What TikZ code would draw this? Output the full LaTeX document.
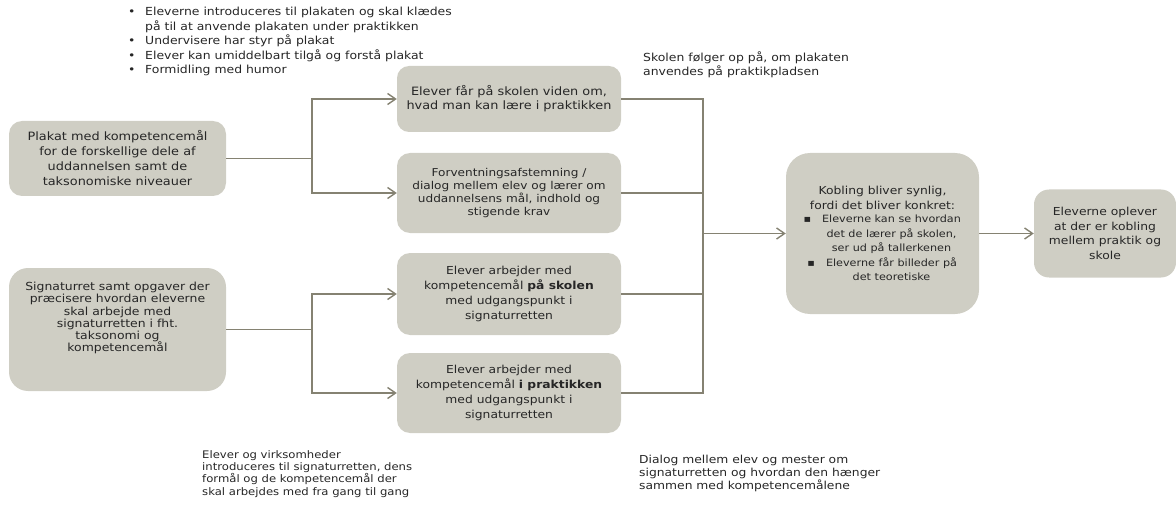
\documentclass[tikz,border=0pt]{standalone}
\usepackage{fontspec}
\setmainfont{DejaVu Sans}[FakeStretch=1.12]
\usetikzlibrary{arrows.meta}
\definecolor{boxfill}{HTML}{CFCEC4}
\definecolor{linec}{HTML}{858272}
\definecolor{txt}{HTML}{262626}
\newcommand\blsz{\fontsize{10}{13.5}\selectfont}
\begin{document}
\begin{tikzpicture}[x=1pt,y=-1pt,
  box/.style={draw=none, fill=boxfill, rounded corners=#1, align=center,
    text=txt, inner sep=0pt, font=\fontsize{11}{14.5}\selectfont},
  box/.default=12pt,
  conn/.style={draw=linec, line width=1.4pt},
  arr/.style={conn, -{Straight Barb[length=8pt,width=11pt]}},
  note/.style={anchor=north west, align=left, inner sep=0pt, text=txt,
    font=\fontsize{11.1}{14.5}\selectfont}]
\useasboundingbox (0,0) rectangle (1176,508);

% left boxes
\node[box=13pt, minimum width=217pt, minimum height=75pt,
  font=\fontsize{11.5}{15}\selectfont] (A) at (117.5,158.5)
  {Plakat med kompetencemål\\for de forskellige dele af\\uddannelsen samt de\\taksonomiske niveauer};
\node[box=19pt, minimum width=217pt, minimum height=123pt,
  font=\fontsize{11.1}{12.3}\selectfont, text depth=25pt] (B) at (117.5,329.5)
  {Signaturret samt opgaver der\\præcisere hvordan eleverne\\skal arbejde med\\signaturretten i fht.\\taksonomi og\\kompetencemål};

% middle boxes
\node[box=12pt, minimum width=224pt, minimum height=66pt,
  font=\fontsize{11.5}{14}\selectfont] (C1) at (509,99)
  {Elever får på skolen viden om,\\hvad man kan lære i praktikken};
\node[box=13pt, minimum width=224pt, minimum height=80pt,
  font=\fontsize{10.8}{13.3}\selectfont] (C2) at (509,193)
  {Forventningsafstemning /\\dialog mellem elev og lærer om\\uddannelsens mål, indhold og\\stigende krav};
\node[box=13pt, minimum width=224pt, minimum height=82pt,
  font=\fontsize{11}{14.8}\selectfont] (C3) at (509,294)
  {Elever arbejder med\\kompetencemål \textbf{på skolen}\\med udgangspunkt i\\signaturretten};
\node[box=13pt, minimum width=224pt, minimum height=80pt,
  font=\fontsize{11}{15}\selectfont] (C4) at (509,393)
  {Elever arbejder med\\kompetencemål \textbf{i praktikken}\\med udgangspunkt i\\signaturretten};

% right boxes
\node[box=24pt, minimum width=193pt, minimum height=161pt,
  font=\fontsize{11}{14.5}\selectfont] (D) at (882.5,233.5)
  {Kobling bliver synlig,\\fordi det bliver konkret:\\[-1pt]
   \blsz\hspace*{18pt}\llap{▪\hspace{11pt}}Eleverne kan se hvordan\\
   \blsz\hspace*{18pt}det de lærer på skolen,\\
   \blsz\hspace*{18pt}ser ud på tallerkenen\\
   \blsz\hspace*{18pt}\llap{▪\hspace{11pt}}Eleverne får billeder på\\
   \blsz\hspace*{18pt}det teoretiske};
\node[box=15pt, minimum width=142pt, minimum height=88pt] (E) at (1105,233.5)
  {Eleverne oplever\\at der er kobling\\mellem praktik og\\skole};

% connectors
\coordinate (jA) at (312,158.5);
\coordinate (jB) at (312,329.5);
\coordinate (jR) at (703,233.5);
\draw[arr] (A.east) -- (jA) |- (C1.west);
\draw[arr] (jA) |- (C2.west);
\draw[arr] (B.east) -- (jB) |- (C3.west);
\draw[arr] (jB) |- (C4.west);
\draw[conn] (C1.east) -| (jR);
\draw[conn] (C2.east) -| (jR);
\draw[conn] (C3.east) -| (jR);
\draw[conn] (C4.east) -| (jR);
\draw[arr] (jR) -- (D.west);
\draw[arr] (D.east) -- (E.west);

% annotations
\node[note] (n1) at (128,7)
  {\makebox[17pt][l]{•}Eleverne introduceres til plakaten og skal klædes\\
   \hspace*{17pt}på til at anvende plakaten under praktikken\\
   \makebox[17pt][l]{•}Undervisere har styr på plakat\\
   \makebox[17pt][l]{•}Elever kan umiddelbart tilgå og forstå plakat\\
   \makebox[17pt][l]{•}Formidling med humor};
\node[note, font=\fontsize{11.1}{14}\selectfont] (n2) at (643,52)
  {Skolen følger op på, om plakaten\\anvendes på praktikpladsen};
\node[note, font=\fontsize{10.4}{12.3}\selectfont] (n3) at (202,450)
  {Elever og virksomheder\\introduceres til signaturretten, dens\\formål og de kompetencemål der\\skal arbejdes med fra gang til gang};
\node[note, font=\fontsize{11}{13}\selectfont] (n4) at (639,455)
  {Dialog mellem elev og mester om\\signaturretten og hvordan den hænger\\sammen med kompetencemålene};
\end{tikzpicture}
\end{document}
